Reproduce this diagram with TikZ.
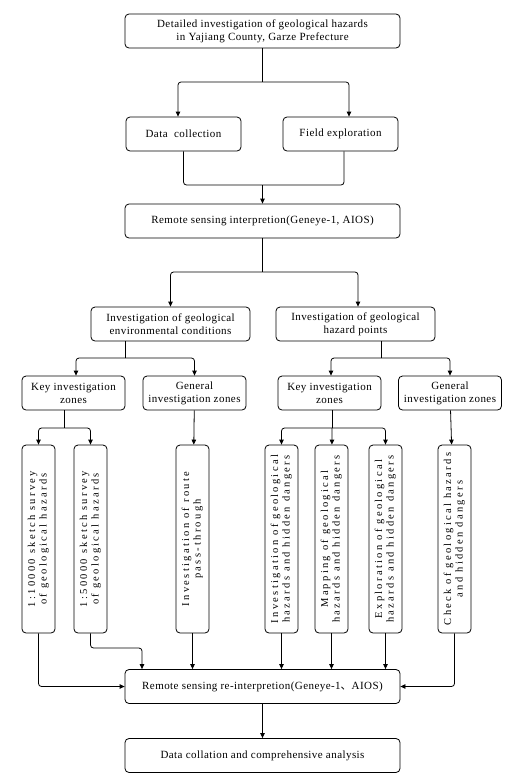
\documentclass[tikz,border=0pt]{standalone}
\usepackage{fontspec}
\setmainfont{Liberation Serif}
\newfontfamily\cjkfont{Noto Sans CJK SC}
\usepackage{graphicx}
\usepackage{tikz}
\usetikzlibrary{
  arrows.meta,
  positioning,
  calc,
}

\begin{document}
\begin{tikzpicture}[x=1pt, y=-1pt,
  box/.style={
    draw, line width=0.8pt, rounded corners=4pt, align=center,
    inner sep=1pt,
    font=\fontsize{11}{13}\selectfont\addfontfeatures{LetterSpace=4},
  },
  widebox/.style={box, minimum width=275pt, minimum height=34pt},
  midbox/.style={box, minimum width=159pt, minimum height=34pt},
  smallbox/.style={box, minimum width=115pt, minimum height=34pt},
  zonebox/.style={box, minimum width=103pt, minimum height=34pt},
  tallbox/.style={
    box, minimum width=33pt, minimum height=188pt,
    font=\fontsize{10.5}{11.5}\selectfont\addfontfeatures{LetterSpace=22},
  },
  arrow/.style={
    -{Triangle[length=5pt,width=4.5pt]}, line width=0.8pt, rounded corners=3pt,
  },
  line/.style={line width=0.8pt, rounded corners=3pt},
]
  \useasboundingbox (0,0) rectangle (515,780);

  % Top levels
  \node[widebox] (top) at (262.5,31)
    {Detailed investigation of geological hazards\\in Yajiang County, Garze Prefecture};
  \node[smallbox] (data) at (183.5,134) {Data\ \ collection};
  \node[smallbox] (field) at (340.5,134) {Field exploration};
  \node[widebox] (rs) at (262.5,221) {Remote sensing interpretion(Geneye-1, AIOS)};

  % Investigation branches
  \node[midbox] (env) at (170.5,324)
    {Investigation of geological\\environmental conditions};
  \node[midbox] (haz) at (355.5,324)
    {Investigation of geological\\hazard points};

  % Zones
  \node[zonebox] (keyenv) at (73.5,393) {Key investigation\\zones};
  \node[zonebox] (genenv) at (194.5,393) {General\\investigation zones};
  \node[zonebox] (keyhaz) at (329.5,393) {Key investigation\\zones};
  \node[zonebox] (genhaz) at (450,393) {General\\investigation zones};

  % Survey tasks
  \node[tallbox] (sk10) at (38.5,539) {\rotatebox{90}{\begin{tabular}{@{}c@{}}1:10000 sketch survey\\of geological hazards\end{tabular}}};
  \node[tallbox] (sk50) at (90.5,539) {\rotatebox{90}{\begin{tabular}{@{}c@{}}1:50000 sketch survey\\of geological hazards\end{tabular}}};
  \node[tallbox] (route) at (192.5,539) {\rotatebox{90}{\begin{tabular}{@{}c@{}}Investigation of route\\pass-through\end{tabular}}};
  \node[tallbox] (invest) at (281.5,539) {\rotatebox{90}{\begin{tabular}{@{}c@{}}Investigation of geological\\hazards and hidden dangers\end{tabular}}};
  \node[tallbox] (mapping) at (331.5,539) {\rotatebox{90}{\begin{tabular}{@{}c@{}}Mapping of geological\\hazards and hidden dangers\end{tabular}}};
  \node[tallbox] (explor) at (385.5,539) {\rotatebox{90}{\begin{tabular}{@{}c@{}}Exploration of geological\\hazards and hidden dangers\end{tabular}}};
  \node[tallbox] (check) at (454.5,539) {\rotatebox{90}{\begin{tabular}{@{}c@{}}Check of geological hazards\\and hidden dangers\end{tabular}}};

  % Bottom
  \node[widebox] (rerun) at (262.5,686.5)
    {Remote sensing re-interpretion(Geneye-1{\cjkfont 、}AIOS)};
  \node[widebox] (final) at (262.5,755.5)
    {Data collation and comprehensive analysis};

  % Connections, upper part
  \draw[line] (top) -- (262.5,82) coordinate (split1);
  \draw[arrow] (split1) -| ([xshift=-5.5pt]data.north);
  \draw[arrow] (split1) -| ([xshift=8.5pt]field.north);
  \coordinate (join1) at (262.5,185);
  \draw[line] (data) |- (join1);
  \draw[line] ([xshift=3.5pt]field.south) |- (join1);
  \draw[arrow] (join1) -- (rs);

  \draw[line] (rs) -- (262.5,272) coordinate (split2);
  \draw[arrow] (split2) -| (env);
  \draw[arrow] (split2) -| ([xshift=2.5pt]haz.north);

  \draw[line] (env.south -| 125,0) -- (125,358) coordinate (split3);
  \draw[arrow] (split3) -| ([xshift=2.5pt]keyenv.north);
  \draw[arrow] (split3) -| (genenv);
  \draw[line] (haz.south -| 381,0) -- (381,358) coordinate (split4);
  \draw[arrow] (split4) -| ([xshift=1.5pt]keyhaz.north);
  \draw[arrow] (split4) -| (genhaz);

  % Connections, zones to tasks
  \draw[line] (keyenv.south -| 64.5,0) -- (64.5,428) coordinate (split5);
  \draw[arrow] (split5) -| (sk10);
  \draw[arrow] (split5) -| (sk50);
  \draw[arrow] (genenv) -- (route);
  \draw[line] (keyhaz.south -| 332,0) -- (332,428) coordinate (split6);
  \draw[arrow] (split6) -| (invest);
  \draw[arrow] (split6) -- (mapping);
  \draw[arrow] (split6) -| (explor);
  \draw[arrow] (genhaz) -- (check);

  % Connections, tasks to re-interpretion
  \draw[arrow] (sk10) |- (rerun);
  \draw[arrow] (sk50) |- (142,648) -- (rerun.north -| 142,0);
  \draw[arrow] (route) -- (rerun.north -| route);
  \draw[arrow] (invest) -- (rerun.north -| invest);
  \draw[arrow] (mapping) -- (rerun.north -| mapping);
  \draw[arrow] (explor) -- (rerun.north -| explor);
  \draw[arrow] (check) |- (rerun);
  \draw[arrow] (rerun) -- (final);
\end{tikzpicture}
\end{document}
